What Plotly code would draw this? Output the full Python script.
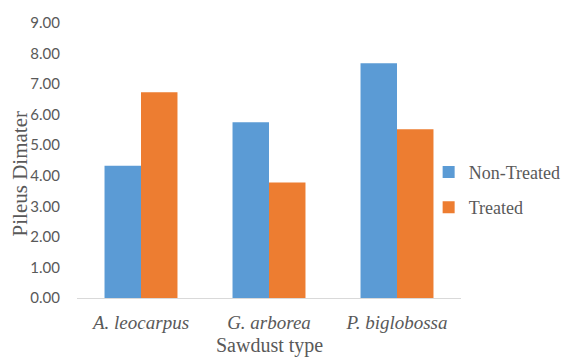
import plotly.graph_objects as go

# Pileus diameter by sawdust substrate
categories = ["A. leocarpus", "G. arborea", "P. biglobossa"]
non_treated = [4.33, 5.75, 7.68]
treated = [6.73, 3.78, 5.52]
y_ticks = [0, 1, 2, 3, 4, 5, 6, 7, 8, 9]
y_tick_labels = [f"{v:.2f}" for v in y_ticks]

SERIF = "Liberation Serif"
SANS = "Lato"

fig = go.Figure()
fig.add_trace(go.Bar(name="Non-Treated", x=categories, y=non_treated, legendgroup="nt",
                     marker=dict(color="#5B9BD5", line=dict(width=0))))
fig.add_trace(go.Bar(name="Treated", x=categories, y=treated, legendgroup="t",
                     marker=dict(color="#ED7D31", line=dict(width=0))))

fig.update_layout(
    width=570, height=358,
    font=dict(family=SERIF, color="#595959"),
    margin=dict(l=77, r=109, t=23, b=60, autoexpand=False),
    paper_bgcolor="white", plot_bgcolor="white",
    barmode="group", bargap=0.43, bargroupgap=0,
    showlegend=True,
    legend=dict(
        xref="container", yref="container",
        x=0.752, y=0.47, xanchor="left", yanchor="middle",
        font=dict(family=SERIF, size=18, color="#595959"),
        itemwidth=30, tracegroupgap=9, bgcolor="rgba(0,0,0,0)",
    ),
    xaxis=dict(
        tickmode="array", tickvals=categories,
        ticktext=[f"<i>{c}</i>" for c in categories],
        tickfont=dict(family=SERIF, size=19, color="#595959"),
        showline=True, linecolor="#d9d9d9", linewidth=1,
        ticks="outside", ticklen=7, tickcolor="rgba(0,0,0,0)",
        showgrid=False, automargin=False,
    ),
    yaxis=dict(
        range=[0, 9], tickmode="array", tickvals=y_ticks, ticktext=y_tick_labels,
        tickfont=dict(family=SANS, size=15, color="#595959"),
        showgrid=False, zeroline=False, showline=False,
        ticks="outside", ticklen=13, tickcolor="rgba(0,0,0,0)", automargin=False,
    ),
    annotations=[
        dict(text="Pileus Dimater", xref="paper", yref="paper",
             x=-0.148, y=0.45, textangle=-90, showarrow=False,
             xanchor="center", yanchor="middle",
             font=dict(family=SERIF, size=21, color="#595959")),
        dict(text="Sawdust type", xref="paper", yref="paper",
             x=0.5, y=-0.172, showarrow=False, xanchor="center", yanchor="middle",
             font=dict(family=SERIF, size=20, color="#595959")),
    ],
)

fig.write_html("out.html")
